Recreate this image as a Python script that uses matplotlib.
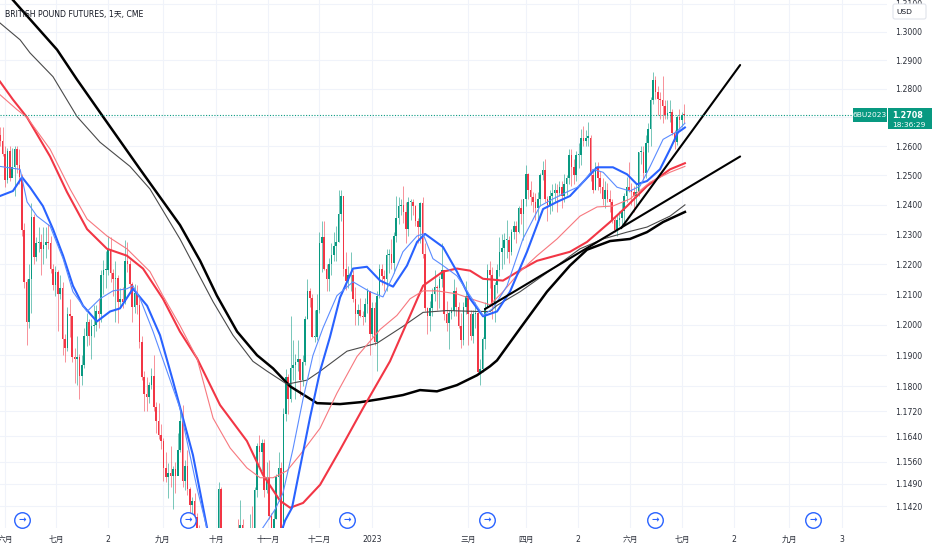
import matplotlib
matplotlib.use("Agg")
import matplotlib.pyplot as plt
import numpy as np
from matplotlib.patches import Rectangle, FancyBboxPatch
from matplotlib.transforms import IdentityTransform, blended_transform_factory
from matplotlib.ticker import FixedLocator, FixedFormatter, NullLocator

plt.rcParams["font.family"] = ["DejaVu Sans", "Noto Sans CJK SC"]

# Daily candles, 27 May 2022 .. 5 Jul 2023 (bar 0 = 1 Jun 2022)
first_open = 1.2640
highs = [
    1.2665, 1.2665,
    1.2600, 1.2595, 1.2600, 1.2595, 1.2600, 1.2600, 1.2590, 1.2505, 1.2340, 1.2150, 1.2200, 1.2405, 1.2370, 1.2290, 1.2325, 1.2300, 1.2325, 1.2325, 1.2335, 1.2295, 1.2200, 1.2195,
    1.2180, 1.2165, 1.2140, 1.1970, 1.2060, 1.2085, 1.2010, 1.1925, 1.1965, 1.1905, 1.1900, 1.1990, 1.2040, 1.2020, 1.2020, 1.2065, 1.2065, 1.2090, 1.2180, 1.2215, 1.2245,
    1.2295, 1.2290, 1.2185, 1.2210, 1.2165, 1.2120, 1.2125, 1.2280, 1.2275, 1.2215, 1.2140, 1.2135, 1.2130, 1.2090, 1.1965, 1.1850, 1.1830, 1.1815, 1.1860, 1.1900, 1.1750, 1.1745, 1.1680,
    1.1635, 1.1590, 1.1555, 1.1610, 1.1545, 1.1560, 1.1650, 1.1735, 1.1740, 1.1565, 1.1595, 1.1480, 1.1450, 1.1460, 1.1400, 1.1360, 1.1280, 1.0930, 1.0830, 1.0910, 1.1130, 1.1240,
    1.1330, 1.1495, 1.1480, 1.1330, 1.1165, 1.1100, 1.1105, 1.1110, 1.1340, 1.1380, 1.1440, 1.1380, 1.1335, 1.1340, 1.1395, 1.1420, 1.1480, 1.1620, 1.1645, 1.1630, 1.1630,
    1.1560, 1.1565, 1.1400, 1.1410, 1.1520, 1.1590, 1.1560, 1.1730, 1.1855, 1.1840, 1.2030, 1.1950, 1.1905, 1.1950, 1.1890, 1.1900, 1.2030, 1.2150, 1.2120, 1.2100, 1.2050, 1.2100,
    1.2310, 1.2345, 1.2345, 1.2200, 1.2220, 1.2270, 1.2310, 1.2330, 1.2450, 1.2450, 1.2430, 1.2240, 1.2195, 1.2240, 1.2180, 1.2125, 1.2070, 1.2090, 1.2045, 1.2090, 1.2120,
    1.2110, 1.2075, 1.2075, 1.2110, 1.2200, 1.2200, 1.2180, 1.2250, 1.2250, 1.2285, 1.2310, 1.2430, 1.2425, 1.2420, 1.2465, 1.2410, 1.2425, 1.2420, 1.2420, 1.2400, 1.2355,
    1.2410, 1.2425, 1.2270, 1.2060, 1.2080, 1.2120, 1.2180, 1.2130, 1.2160, 1.2270, 1.2180, 1.2080, 1.2050, 1.2060, 1.2150, 1.2125, 1.2075, 1.2040, 1.2075, 1.2145,
    1.2100, 1.2050, 1.2050, 1.2075, 1.2045, 1.1890, 1.1960, 1.2075, 1.2200, 1.2210, 1.2190, 1.2140, 1.2200, 1.2290, 1.2300, 1.2305, 1.2350, 1.2295, 1.2320, 1.2345, 1.2345, 1.2395, 1.2420,
    1.2420, 1.2535, 1.2510, 1.2480, 1.2445, 1.2440, 1.2445, 1.2510, 1.2550, 1.2555, 1.2430, 1.2450, 1.2470, 1.2475, 1.2470, 1.2480, 1.2480, 1.2505, 1.2500, 1.2590,
    1.2590, 1.2555, 1.2585, 1.2610, 1.2660, 1.2670, 1.2655, 1.2685, 1.2640, 1.2520, 1.2545, 1.2545, 1.2515, 1.2490, 1.2480, 1.2475, 1.2450, 1.2420, 1.2360, 1.2370, 1.2380, 1.2410, 1.2440,
    1.2495, 1.2545, 1.2475, 1.2465, 1.2475, 1.2580, 1.2600, 1.2600, 1.2640, 1.2680, 1.2770, 1.2860, 1.2845, 1.2810, 1.2790, 1.2845, 1.2760, 1.2760, 1.2760, 1.2730, 1.2655, 1.2710,
    1.2730, 1.2720, 1.2745,
]
lows = [
    1.2600, 1.2565,
    1.2460, 1.2475, 1.2480, 1.2495, 1.2430, 1.2510, 1.2470, 1.2295, 1.2120, 1.1935, 1.1990, 1.2040, 1.2200, 1.2210, 1.2240, 1.2165, 1.2200, 1.2220, 1.2250, 1.2170, 1.2115, 1.2095,
    1.1980, 1.2085, 1.1900, 1.1880, 1.1915, 1.1960, 1.1880, 1.1810, 1.1805, 1.1760, 1.1805, 1.1860, 1.1930, 1.1935, 1.1890, 1.1960, 1.1980, 1.1990, 1.2010, 1.2100, 1.2120,
    1.2165, 1.2140, 1.2095, 1.2010, 1.2005, 1.2055, 1.2055, 1.2070, 1.2175, 1.2105, 1.2010, 1.2040, 1.2035, 1.1925, 1.1820, 1.1720, 1.1720, 1.1745, 1.1790, 1.1720, 1.1650, 1.1630, 1.1600,
    1.1500, 1.1495, 1.1445, 1.1480, 1.1410, 1.1460, 1.1520, 1.1590, 1.1480, 1.1470, 1.1455, 1.1350, 1.1360, 1.1370, 1.1230, 1.1215, 1.0840, 1.0350, 1.0650, 1.0540, 1.0770, 1.1020,
    1.1035, 1.1290, 1.1300, 1.1140, 1.1030, 1.0990, 1.0925, 1.0925, 1.0920, 1.1150, 1.1165, 1.1260, 1.1200, 1.1190, 1.1060, 1.1230, 1.1260, 1.1450, 1.1550, 1.1530, 1.1450,
    1.1460, 1.1380, 1.1145, 1.1160, 1.1380, 1.1450, 1.1320, 1.1335, 1.1690, 1.1710, 1.1750, 1.1820, 1.1760, 1.1850, 1.1770, 1.1800, 1.1870, 1.2020, 1.2060, 1.1960, 1.1945, 1.1950,
    1.2040, 1.2175, 1.2180, 1.2110, 1.2110, 1.2165, 1.2210, 1.2210, 1.2275, 1.2345, 1.2160, 1.2115, 1.2120, 1.2110, 1.2075, 1.2000, 1.2000, 1.2025, 1.2000, 1.2010, 1.2040,
    1.1900, 1.1960, 1.1935, 1.1850, 1.2090, 1.2130, 1.2110, 1.2110, 1.2170, 1.2185, 1.2170, 1.2275, 1.2335, 1.2365, 1.2340, 1.2270, 1.2295, 1.2350, 1.2365, 1.2330, 1.2270,
    1.2270, 1.2220, 1.2045, 1.1970, 1.1980, 1.2030, 1.2080, 1.2050, 1.2055, 1.2125, 1.2015, 1.1980, 1.1920, 1.2020, 1.2030, 1.2030, 1.1990, 1.1925, 1.1935, 1.2035,
    1.1935, 1.1950, 1.1940, 1.1990, 1.1840, 1.1805, 1.1845, 1.1920, 1.2060, 1.2120, 1.2020, 1.2010, 1.2105, 1.2160, 1.2185, 1.2200, 1.2220, 1.2205, 1.2230, 1.2285, 1.2270, 1.2305, 1.2335,
    1.2280, 1.2395, 1.2420, 1.2400, 1.2375, 1.2350, 1.2345, 1.2395, 1.2485, 1.2410, 1.2345, 1.2370, 1.2380, 1.2410, 1.2375, 1.2430, 1.2390, 1.2410, 1.2435, 1.2470,
    1.2465, 1.2470, 1.2480, 1.2525, 1.2535, 1.2600, 1.2600, 1.2600, 1.2480, 1.2440, 1.2450, 1.2450, 1.2440, 1.2400, 1.2390, 1.2410, 1.2375, 1.2340, 1.2310, 1.2295, 1.2330, 1.2330, 1.2340,
    1.2410, 1.2445, 1.2400, 1.2375, 1.2400, 1.2430, 1.2540, 1.2485, 1.2490, 1.2580, 1.2600, 1.2745, 1.2765, 1.2710, 1.2695, 1.2680, 1.2695, 1.2695, 1.2685, 1.2640, 1.2590, 1.2605,
    1.2660, 1.2665, 1.2680,
]
closes = [
    1.2620, 1.2575,
    1.2485, 1.2585, 1.2490, 1.2530, 1.2590, 1.2535, 1.2495, 1.2315, 1.2140, 1.2010, 1.2150, 1.2360, 1.2225, 1.2270, 1.2275, 1.2250, 1.2265, 1.2275, 1.2270, 1.2185, 1.2130, 1.2175,
    1.2100, 1.2120, 1.1955, 1.1925, 1.2035, 1.2030, 1.1895, 1.1890, 1.1895, 1.1835, 1.1870, 1.1965, 1.2010, 1.1965, 1.1995, 1.2000, 1.2045, 1.2035, 1.2165, 1.2180, 1.2180,
    1.2250, 1.2170, 1.2150, 1.2155, 1.2075, 1.2085, 1.2075, 1.2210, 1.2200, 1.2135, 1.2060, 1.2105, 1.2065, 1.1945, 1.1830, 1.1775, 1.1765, 1.1805, 1.1835, 1.1735, 1.1690, 1.1645, 1.1625,
    1.1540, 1.1510, 1.1525, 1.1515, 1.1535, 1.1515, 1.1595, 1.1690, 1.1500, 1.1545, 1.1475, 1.1425, 1.1435, 1.1385, 1.1270, 1.1255, 1.0860, 1.0690, 1.0735, 1.0890, 1.1110, 1.1165,
    1.1325, 1.1475, 1.1320, 1.1160, 1.1090, 1.1060, 1.0970, 1.1090, 1.1330, 1.1170, 1.1360, 1.1320, 1.1210, 1.1220, 1.1310, 1.1290, 1.1470, 1.1610, 1.1590, 1.1620, 1.1470,
    1.1510, 1.1390, 1.1170, 1.1380, 1.1510, 1.1540, 1.1340, 1.1710, 1.1830, 1.1760, 1.1860, 1.1870, 1.1880, 1.1890, 1.1820, 1.1880, 1.2020, 1.2110, 1.2090, 1.1960, 1.1960, 1.2050,
    1.2270, 1.2290, 1.2185, 1.2150, 1.2200, 1.2230, 1.2260, 1.2275, 1.2370, 1.2430, 1.2185, 1.2145, 1.2165, 1.2165, 1.2085, 1.2035, 1.2050, 1.2030, 1.2025, 1.2070, 1.2110,
    1.1970, 1.2055, 1.1945, 1.2095, 1.2185, 1.2160, 1.2150, 1.2230, 1.2235, 1.2205, 1.2295, 1.2355, 1.2395, 1.2400, 1.2375, 1.2320, 1.2410, 1.2410, 1.2395, 1.2345, 1.2325,
    1.2405, 1.2235, 1.2055, 1.2030, 1.2055, 1.2100, 1.2125, 1.2120, 1.2150, 1.2180, 1.2035, 1.2005, 1.2040, 1.2045, 1.2110, 1.2060, 1.1995, 1.1950, 1.2060, 1.2095,
    1.2035, 1.1965, 1.2035, 1.2040, 1.1845, 1.1855, 1.1955, 1.2055, 1.2180, 1.2165, 1.2070, 1.2130, 1.2180, 1.2240, 1.2255, 1.2280, 1.2280, 1.2240, 1.2310, 1.2330, 1.2310, 1.2390, 1.2370,
    1.2420, 1.2505, 1.2450, 1.2425, 1.2410, 1.2390, 1.2420, 1.2500, 1.2520, 1.2420, 1.2400, 1.2430, 1.2440, 1.2450, 1.2440, 1.2460, 1.2430, 1.2470, 1.2490, 1.2570,
    1.2530, 1.2500, 1.2570, 1.2570, 1.2630, 1.2620, 1.2630, 1.2630, 1.2500, 1.2450, 1.2530, 1.2490, 1.2460, 1.2420, 1.2450, 1.2420, 1.2410, 1.2350, 1.2315, 1.2350, 1.2355, 1.2380, 1.2430,
    1.2460, 1.2450, 1.2445, 1.2430, 1.2445, 1.2580, 1.2580, 1.2510, 1.2610, 1.2660, 1.2760, 1.2830, 1.2790, 1.2765, 1.2760, 1.2740, 1.2710, 1.2715, 1.2720, 1.2645, 1.2615, 1.2700,
    1.2690, 1.2710, 1.2708,
]
first_bar = -2

# Moving averages (bar position, price)
blue_thin_x = [-2.1, 6.3, 9.2, 13.3, 18.8, 24.2, 28.3, 34.2, 39.6, 45.0, 50.8, 53.3, 56.3, 61.7, 67.5, 72.9, 80.0, 84.2,
               87.5, 92.9, 97.9, 102.9, 107.1, 112.5, 115.8, 120.0, 124.2, 128.3, 132.5, 138.3, 145.0, 152.1, 157.5,
               161.7, 165.8, 171.7, 174.2, 178.3, 182.5, 188.3, 193.8, 199.2, 203.3, 209.2, 215.8, 222.9, 228.3, 234.2,
               239.6, 245.0, 249.2, 255.0, 260.4, 264.6, 268.8, 274.2, 280.0, 283.3]
blue_thin_y = [1.2531, 1.2521, 1.2410, 1.2362, 1.2328, 1.2219, 1.2109, 1.2044, 1.2086, 1.2112, 1.2119, 1.2129, 1.2086,
               1.1978, 1.1849, 1.1730, 1.1477, 1.1349, 1.1120, 1.0980, 1.1100, 1.1180, 1.1349, 1.1409, 1.1460, 1.1600,
               1.1760, 1.1900, 1.1990, 1.2096, 1.2142, 1.2109, 1.2092, 1.2162, 1.2242, 1.2295, 1.2302, 1.2219, 1.2196,
               1.2162, 1.2096, 1.2031, 1.2054, 1.2129, 1.2285, 1.2396, 1.2420, 1.2444, 1.2464, 1.2521, 1.2511, 1.2460,
               1.2447, 1.2464, 1.2531, 1.2624, 1.2651, 1.2680]
blue_thick_x = [-2.1, 3.3, 7.1, 10.4, 15.8, 20.0, 24.2, 28.3, 32.5, 38.3, 43.8, 47.9, 53.3, 59.2, 64.6, 70.0, 78.3, 84.2,
                89.6, 97.9, 106.3, 112.5, 116.7, 119.6, 122.9, 127.1, 131.3, 135.4, 139.6, 145.0, 150.8, 156.3, 161.7,
                167.5, 171.7, 175.0, 182.5, 188.3, 193.8, 199.2, 205.0, 210.4, 217.5, 224.2, 230.0, 235.4, 240.8, 246.7,
                253.3, 259.2, 263.3, 267.5, 272.9, 277.1, 280.4, 283.3]
blue_thick_y = [1.2430, 1.2447, 1.2494, 1.2460, 1.2396, 1.2318, 1.2229, 1.2129, 1.2063, 1.2011, 1.2044, 1.2054, 1.2119,
                1.2063, 1.1966, 1.1817, 1.1581, 1.1352, 1.1150, 1.1050, 1.1120, 1.1280, 1.1375, 1.1415, 1.1540, 1.1700,
                1.1850, 1.1960, 1.2090, 1.2186, 1.2192, 1.2146, 1.2126, 1.2196, 1.2275, 1.2302, 1.2258, 1.2176, 1.2086,
                1.2028, 1.2044, 1.2109, 1.2242, 1.2386, 1.2410, 1.2430, 1.2477, 1.2528, 1.2528, 1.2504, 1.2470, 1.2481,
                1.2521, 1.2590, 1.2648, 1.2665]
red_thin_x = [-2.1, 5.0, 9.2, 18.8, 27.1, 34.2, 42.5, 50.8, 60.4, 65.8, 72.9, 80.0, 86.7, 93.8, 100.8, 106.3, 111.7,
              117.5, 122.9, 131.3, 138.3, 146.7, 156.3, 163.3, 168.8, 174.2, 180.0, 188.3, 196.7, 202.1, 207.5, 214.6,
              221.7, 230.0, 239.6, 246.7, 253.3, 260.4, 268.8, 277.1, 283.3]
red_thin_y = [1.2779, 1.2727, 1.2700, 1.2590, 1.2454, 1.2352, 1.2295, 1.2252, 1.2176, 1.2096, 1.1998, 1.1891, 1.1698,
              1.1603, 1.1540, 1.1509, 1.1509, 1.1531, 1.1581, 1.1666, 1.1778, 1.1897, 1.1985, 1.2031, 1.2086, 1.2112,
              1.2112, 1.2102, 1.2079, 1.2066, 1.2109, 1.2176, 1.2229, 1.2285, 1.2362, 1.2393, 1.2396, 1.2420, 1.2477,
              1.2511, 1.2531]
red_thick_x = [-2.1, 3.3, 9.2, 18.8, 25.8, 34.2, 42.5, 50.8, 57.5, 65.8, 72.9, 80.0, 89.6, 100.8, 107.5, 114.6, 118.8,
               124.2, 131.3, 139.6, 149.2, 160.4, 168.8, 174.2, 182.5, 188.3, 193.8, 199.2, 207.5, 215.8, 221.7, 235.4,
               242.5, 252.1, 259.2, 267.5, 277.1, 283.3]
red_thick_y = [1.2825, 1.2762, 1.2700, 1.2565, 1.2444, 1.2318, 1.2252, 1.2229, 1.2186, 1.2086, 1.1978, 1.1891, 1.1740,
               1.1625, 1.1518, 1.1437, 1.1415, 1.1430, 1.1487, 1.1597, 1.1730, 1.1881, 1.2031, 1.2129, 1.2176, 1.2186,
               1.2179, 1.2152, 1.2146, 1.2186, 1.2212, 1.2242, 1.2275, 1.2342, 1.2396, 1.2464, 1.2521, 1.2542]
black_thin_x = [-2.1, 6.3, 10.4, 20.0, 30.0, 39.6, 52.1, 60.4, 72.9, 86.7, 95.0, 103.3, 109.2, 117.5, 125.8, 131.3,
                142.5, 155.0, 165.8, 174.2, 184.2, 196.7, 202.1, 205.0, 214.6, 228.3, 239.6, 249.2, 259.2, 267.5,
                277.1, 283.3]
black_thin_y = [1.3032, 1.2972, 1.2926, 1.2842, 1.2703, 1.2614, 1.2531, 1.2454, 1.2285, 1.2076, 1.1966, 1.1881, 1.1849,
                1.1807, 1.1820, 1.1849, 1.1914, 1.1940, 1.1995, 1.2041, 1.2047, 1.2044, 1.2044, 1.2064, 1.2109, 1.2186,
                1.2252, 1.2285, 1.2308, 1.2325, 1.2362, 1.2400]
black_thick_x = [-2.1, 3.3, 21.7, 30.0, 40.8, 56.3, 72.9, 81.3, 88.3, 96.7, 105.0, 111.7, 118.8, 130.0, 139.6, 148.0,
                 156.3, 165.8, 172.9, 180.0, 188.3, 196.7, 202.1, 205.0, 214.6, 225.8, 235.4, 242.5, 252.1, 260.4,
                 267.5, 274.2, 283.3]
black_thick_y = [1.3168, 1.3114, 1.2937, 1.2832, 1.2703, 1.2521, 1.2332, 1.2212, 1.2096, 1.1978, 1.1901, 1.1858,
                 1.1800, 1.1746, 1.1743, 1.1749, 1.1759, 1.1772, 1.1788, 1.1784, 1.1804, 1.1836, 1.1865, 1.1884,
                 1.1988, 1.2109, 1.2196, 1.2249, 1.2278, 1.2285, 1.2308, 1.2342, 1.2376]

# Hand-drawn trend lines (bar, price)
trend_x = [[200.0, 306.3], [256.7, 306.3]]
trend_y = [[1.2052, 1.2565], [1.2321, 1.2883]]

# Contract roll markers
event_x = [7.1, 76.3, 142.5, 200.8, 270.8, 336.7]

price_ticks = [1.3100, 1.3000, 1.2900, 1.2800, 1.2600, 1.2500, 1.2400, 1.2300, 1.2200, 1.2100,
               1.2000, 1.1900, 1.1800, 1.1720, 1.1640, 1.1560, 1.1490, 1.1420]
time_pos = [0, 21.3, 42.9, 65.8, 87.9, 109.6, 130.8, 152.9, 192.9, 217.1, 238.8, 260.4, 282.1, 303.8, 326.7, 348.8]
time_labels = ["六月", "七月", "2", "九月", "十月", "十一月", "十二月", "2023", "三月", "四月", "2", "六月", "七月", "2", "九月", "3"]

last_price = 1.2708
symbol = "6BU2023"
countdown = "18:36:29"
title = "BRITISH POUND FUTURES, 1天, CME"

UP = "#089981"
DOWN = "#f23645"

# ---------------------------------------------------------------
o = np.array([first_open] + closes[:-1])
h = np.array(highs)
l = np.array(lows)
c = np.array(closes)
x = np.arange(len(c)) + first_bar
col = np.where(c >= o, UP, DOWN)

fig = plt.figure(figsize=(9.32, 5.5), dpi=100)
ax = fig.add_axes([0, 22 / 550, 887 / 932, 528 / 550])
ax.set_yscale("log")
ax.set_xlim(-2.08, 367.5)
ax.set_ylim(1.1352, 1.3114)

# grid
for t in price_ticks + [1.27]:
    ax.axhline(t, color="#f0f3fa", lw=0.8, zorder=0)
for t in time_pos:
    ax.axvline(t, color="#f0f3fa", lw=0.8, zorder=0)

# candles
ax.vlines(x, l, h, colors=col, lw=0.7, alpha=0.55, zorder=2)
body_low = np.minimum(o, c)
body_h = np.maximum(np.abs(c - o), 0.0004)
ax.bar(x, body_h, bottom=body_low, width=0.7, color=col, lw=0, zorder=3)

# moving averages
ax.plot(black_thick_x, black_thick_y, color="#000000", lw=1.8, zorder=4, solid_joinstyle="round")
ax.plot(black_thin_x, black_thin_y, color="#4a4a4a", lw=0.8, zorder=4, solid_joinstyle="round")
ax.plot(red_thick_x, red_thick_y, color="#f23645", lw=1.5, zorder=4, solid_joinstyle="round")
ax.plot(red_thin_x, red_thin_y, color="#f7787f", lw=0.8, zorder=4, solid_joinstyle="round")
ax.plot(blue_thick_x, blue_thick_y, color="#2962ff", lw=1.5, zorder=4, solid_joinstyle="round")
ax.plot(blue_thin_x, blue_thin_y, color="#5b8cff", lw=0.8, zorder=4, solid_joinstyle="round")

for tx, ty in zip(trend_x, trend_y):
    ax.plot(tx, ty, color="#000000", lw=1.5, zorder=5, solid_capstyle="round")

# last price line
ax.axhline(last_price, color=UP, lw=0.8, ls=(0, (1, 1.5)), zorder=5)

# roll markers
btr = blended_transform_factory(ax.transData, ax.transAxes)
ax.scatter(event_x, [0.0155] * len(event_x), transform=btr, s=125, marker="o",
           facecolor="white", edgecolor="#2962ff", lw=1.0, zorder=6, clip_on=False)
for ex in event_x:
    ax.text(ex, 0.0155, "→", transform=btr, ha="center", va="center", color="#2962ff",
            fontsize=6.5, fontweight="bold", zorder=7, clip_on=False)

# axes
for s in ax.spines.values():
    s.set_visible(False)
ax.yaxis.tick_right()
ax.yaxis.set_major_locator(FixedLocator(price_ticks))
ax.yaxis.set_minor_locator(NullLocator())
ax.yaxis.set_major_formatter(FixedFormatter([f"{t:.4f}" for t in price_ticks]))
ax.yaxis.set_minor_formatter(FixedFormatter([]))
ax.tick_params(axis="y", length=0, pad=6, labelsize=5.6, labelcolor="#2a2e39")
ax.xaxis.set_major_locator(FixedLocator(time_pos))
ax.xaxis.set_major_formatter(FixedFormatter(time_labels))
ax.tick_params(axis="x", length=0, pad=5, labelsize=5.6, labelcolor="#2a2e39")

# title
fig.text(5 / 932, 1 - 14 / 550, title, fontsize=5.6, color="#131722", ha="left", va="center")

# price labels on the right
yd = ax.transData.transform((0, last_price))[1]
idt = IdentityTransform()
fig.add_artist(Rectangle((853, yd - 7), 34, 14, transform=idt, fc=UP, ec="none", zorder=8))
fig.add_artist(Rectangle((888, yd - 14), 44, 21, transform=idt, fc=UP, ec="none", zorder=8))
fig.text(870, yd, symbol, transform=idt, ha="center", va="center", color="white", fontsize=5.4, zorder=9)
fig.text(892, yd, f"{last_price:.4f}", transform=idt, ha="left", va="center", color="white",
         fontsize=5.8, fontweight="bold", zorder=9)
fig.text(892, yd - 9.5, countdown, transform=idt, ha="left", va="center", color="white", fontsize=5.4, zorder=9)

# currency box
fig.add_artist(FancyBboxPatch((893, 531), 33, 15, boxstyle="round,pad=0,rounding_size=2",
                              transform=idt, fc="white", ec="#e0e3eb", lw=0.8, zorder=8))
fig.text(896, 538.5, "USD", transform=idt, ha="left", va="center", color="#131722", fontsize=5.4, zorder=9)

fig.savefig("out.png", dpi=100)
